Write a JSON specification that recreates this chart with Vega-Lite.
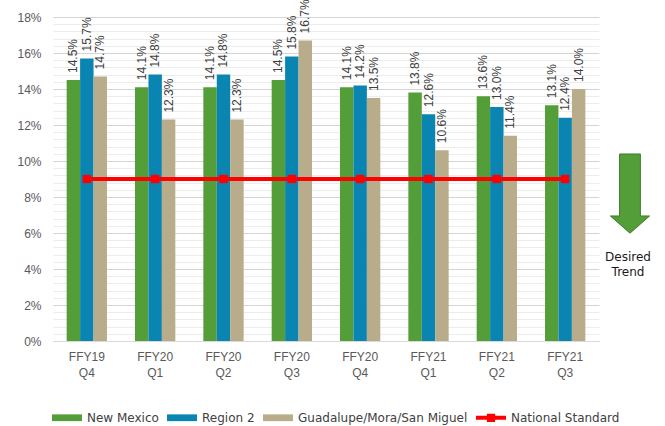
{
  "$schema": "https://vega.github.io/schema/vega-lite/v6.json",
  "width": 546,
  "height": 324,
  "autosize": "none",
  "padding": {"left": 53, "top": 17, "right": 66, "bottom": 85},
  "background": "white",
  "config": {"font": "Liberation Sans", "view": {"stroke": null}},
  "datasets": {
    "rates": [
      {"quarter": "FFY19 Q4", "series": "New Mexico", "value": 0.145},
      {"quarter": "FFY19 Q4", "series": "Region 2", "value": 0.157},
      {"quarter": "FFY19 Q4", "series": "Guadalupe/Mora/San Miguel", "value": 0.147},
      {"quarter": "FFY19 Q4", "series": "National Standard", "value": 0.09},
      {"quarter": "FFY20 Q1", "series": "New Mexico", "value": 0.141},
      {"quarter": "FFY20 Q1", "series": "Region 2", "value": 0.148},
      {"quarter": "FFY20 Q1", "series": "Guadalupe/Mora/San Miguel", "value": 0.123},
      {"quarter": "FFY20 Q1", "series": "National Standard", "value": 0.09},
      {"quarter": "FFY20 Q2", "series": "New Mexico", "value": 0.141},
      {"quarter": "FFY20 Q2", "series": "Region 2", "value": 0.148},
      {"quarter": "FFY20 Q2", "series": "Guadalupe/Mora/San Miguel", "value": 0.123},
      {"quarter": "FFY20 Q2", "series": "National Standard", "value": 0.09},
      {"quarter": "FFY20 Q3", "series": "New Mexico", "value": 0.145},
      {"quarter": "FFY20 Q3", "series": "Region 2", "value": 0.158},
      {"quarter": "FFY20 Q3", "series": "Guadalupe/Mora/San Miguel", "value": 0.167},
      {"quarter": "FFY20 Q3", "series": "National Standard", "value": 0.09},
      {"quarter": "FFY20 Q4", "series": "New Mexico", "value": 0.141},
      {"quarter": "FFY20 Q4", "series": "Region 2", "value": 0.142},
      {"quarter": "FFY20 Q4", "series": "Guadalupe/Mora/San Miguel", "value": 0.135},
      {"quarter": "FFY20 Q4", "series": "National Standard", "value": 0.09},
      {"quarter": "FFY21 Q1", "series": "New Mexico", "value": 0.138},
      {"quarter": "FFY21 Q1", "series": "Region 2", "value": 0.126},
      {"quarter": "FFY21 Q1", "series": "Guadalupe/Mora/San Miguel", "value": 0.106},
      {"quarter": "FFY21 Q1", "series": "National Standard", "value": 0.09},
      {"quarter": "FFY21 Q2", "series": "New Mexico", "value": 0.136},
      {"quarter": "FFY21 Q2", "series": "Region 2", "value": 0.130},
      {"quarter": "FFY21 Q2", "series": "Guadalupe/Mora/San Miguel", "value": 0.114},
      {"quarter": "FFY21 Q2", "series": "National Standard", "value": 0.09},
      {"quarter": "FFY21 Q3", "series": "New Mexico", "value": 0.131},
      {"quarter": "FFY21 Q3", "series": "Region 2", "value": 0.124},
      {"quarter": "FFY21 Q3", "series": "Guadalupe/Mora/San Miguel", "value": 0.140},
      {"quarter": "FFY21 Q3", "series": "National Standard", "value": 0.09}
    ],
    "annot": [
      {"ax": 8.454, "ay": 0.0819, "tx": 8.425, "ty": 0.0469, "label": "Desired Trend"}
    ]
  },
  "layer": [
    {
      "data": {"name": "rates"},
      "layer": [
        {
          "transform": [{"filter": "datum.series !== 'National Standard'"}],
          "mark": {"type": "bar"},
          "encoding": {
            "x": {
              "field": "quarter", "type": "nominal", "sort": null,
              "scale": {"paddingInner": 0.41, "paddingOuter": 0.2},
              "axis": {
                "title": null, "labelAngle": 0, "ticks": false, "grid": false,
                "domain": true, "domainColor": "#d9d9d9",
                "labelExpr": "split(datum.label, ' ')",
                "labelFontSize": 12, "labelColor": "#595959",
                "labelPadding": 10, "labelLineHeight": 16, "labelBaseline": "top"
              }
            },
            "xOffset": {
              "field": "series", "type": "nominal",
              "sort": ["New Mexico", "Region 2", "Guadalupe/Mora/San Miguel"],
              "scale": {"paddingInner": 0, "paddingOuter": 0}
            },
            "y": {
              "field": "value", "type": "quantitative",
              "scale": {"domain": [0, 0.18], "nice": false},
              "axis": {
                "title": null, "ticks": false, "domain": false, "grid": true,
                "tickCount": 100,
                "values": [0,0.004,0.008,0.012,0.016,0.02,0.024,0.028,0.032,0.036,0.04,0.044,0.048,0.052,0.056,0.06,0.064,0.068,0.072,0.076,0.08,0.084,0.088,0.092,0.096,0.1,0.104,0.108,0.112,0.116,0.12,0.124,0.128,0.132,0.136,0.14,0.144,0.148,0.152,0.156,0.16,0.164,0.168,0.172,0.176,0.18],
                "labelExpr": "abs(datum.value*50 - round(datum.value*50)) < 0.001 ? format(datum.value, '.0%') : ''",
                "gridColor": {"condition": {"test": "abs(datum.value*50 - round(datum.value*50)) < 0.001", "value": "#d4d4d4"}, "value": "#ececec"},
                "labelOverlap": false, "labelFlush": false, "labelBound": false,
                "labelFontSize": 12, "labelColor": "#595959", "labelPadding": 12
              }
            },
            "color": {
              "field": "series", "type": "nominal",
              "scale": {
                "domain": ["New Mexico", "Region 2", "Guadalupe/Mora/San Miguel", "National Standard"],
                "range": ["#549E39", "#0A85B2", "#B8AC8B", "#FF0000"]
              },
              "legend": {
                "title": null, "orient": "none", "legendX": -1, "legendY": 393,
                "direction": "horizontal", "columns": 4,
                "symbolSize": 225, "symbolStrokeWidth": 0,
                "labelFont": "DejaVu Sans", "labelFontSize": 12, "labelColor": "#404040",
                "labelLimit": 400,
                "labelOffset": 20, "columnPadding": 8,
                "encode": {
                  "symbols": {
                    "update": {
                      "shape": {"signal": "datum.value === 'National Standard' ? 'M-1,-0.27H3V0.27H-1Z M0.45,-0.55H1.55V0.55H0.45Z' : 'M-1,-0.45H3V0.45H-1Z'"}
                    }
                  }
                }
              }
            }
          }
        },
        {
          "transform": [{"filter": "datum.series !== 'National Standard'"}],
          "mark": {"type": "text", "angle": 270, "align": "left", "baseline": "middle", "dx": 7, "font": "Liberation Sans Narrow, Liberation Sans", "fontSize": 12, "color": "#404040"},
          "encoding": {
            "x": {"field": "quarter", "type": "nominal", "sort": null},
            "xOffset": {"field": "series", "type": "nominal", "sort": ["New Mexico", "Region 2", "Guadalupe/Mora/San Miguel"]},
            "y": {"field": "value", "type": "quantitative"},
            "text": {"field": "value", "type": "quantitative", "format": ".1%"}
          }
        },
        {
          "transform": [{"filter": "datum.series === 'National Standard'"}],
          "mark": {"type": "line", "color": "#FF0000", "strokeWidth": 4},
          "encoding": {
            "x": {"field": "quarter", "type": "nominal", "sort": null},
            "y": {"field": "value", "type": "quantitative"}
          }
        },
        {
          "transform": [{"filter": "datum.series === 'National Standard'"}],
          "mark": {"type": "square", "color": "#FF0000", "size": 70, "opacity": 1, "filled": true},
          "encoding": {
            "x": {"field": "quarter", "type": "nominal", "sort": null},
            "y": {"field": "value", "type": "quantitative"}
          }
        }
      ]
    },
    {
      "data": {"name": "annot"},
      "layer": [
        {
          "mark": {
            "type": "point", "filled": true, "opacity": 1, "size": 6400,
            "shape": "M-0.26,-0.99L0.26,-0.99L0.26,0.56L0.49,0.56L0,0.99L-0.49,0.56L-0.26,0.56Z",
            "fill": "#549E39", "stroke": "#3E7A2A", "strokeWidth": 1, "clip": false
          },
          "encoding": {
            "x": {"field": "ax", "type": "quantitative", "scale": {"domain": [0, 8], "nice": false, "zero": false}, "axis": null},
            "y": {"field": "ay", "type": "quantitative", "scale": {"domain": [0, 0.18], "nice": false}, "axis": null}
          }
        },
        {
          "mark": {"type": "text", "lineBreak": " ", "lineHeight": 15, "font": "DejaVu Sans", "fontSize": 12, "color": "#1a1a1a", "align": "center", "baseline": "middle", "clip": false},
          "encoding": {
            "x": {"field": "tx", "type": "quantitative"},
            "y": {"field": "ty", "type": "quantitative", "axis": null},
            "text": {"field": "label", "type": "nominal"}
          }
        }
      ]
    }
  ],
  "resolve": {"scale": {"x": "independent"}, "axis": {"x": "independent", "y": "independent"}}
}
